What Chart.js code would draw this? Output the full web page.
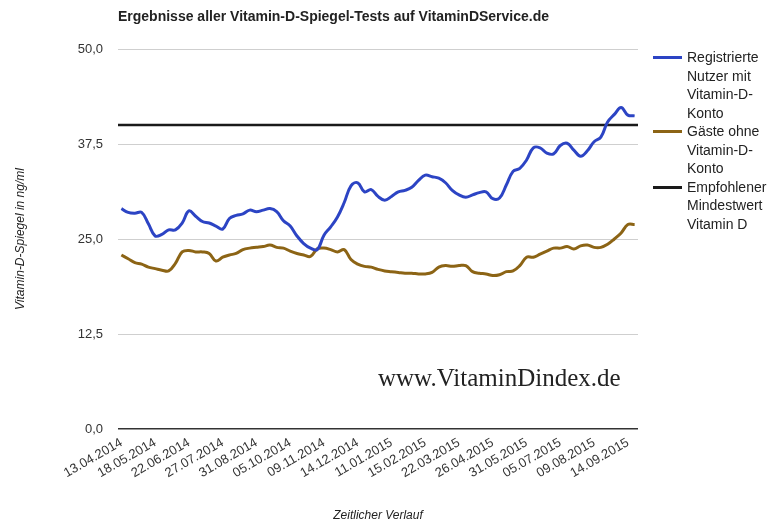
<!DOCTYPE html>
<html lang="de">
<head>
<meta charset="utf-8">
<title>Vitamin-D-Spiegel</title>
<script src="https://cdn.jsdelivr.net/npm/chart.js@4.4.1/dist/chart.umd.min.js"></script>
<style>
    body { margin: 0; background: #fff; }
    #wrap { position: relative; width: 769px; height: 524px; font-family: "Liberation Sans", Arial, sans-serif; }
    #titel { position: absolute; left: 118px; top: 8px; font-size: 14px; font-weight: bold; color: #222; white-space: nowrap; }
    #legende { position: absolute; left: 653px; top: 48px; font-size: 14px; line-height: 18.5px; color: #222; }
    .eintrag { display: flex; align-items: flex-start; }
    .strich { width: 29px; height: 3px; margin-top: 8px; margin-right: 5px; flex: none; }
    #wasserzeichen { position: absolute; left: 378px; top: 364px; font-family: "Liberation Serif", "Times New Roman", serif; font-size: 25px; color: #222; white-space: nowrap; }
</style>
</head>
<body>
<div id="wrap">
    <canvas id="chartVitaminD" width="769" height="524"></canvas>
    <div id="titel">Ergebnisse aller Vitamin-D-Spiegel-Tests auf VitaminDService.de</div>
    <div id="legende">
        <div class="eintrag"><span class="strich" style="background:#2c44c4"></span><span>Registrierte<br>Nutzer mit<br>Vitamin-D-<br>Konto</span></div>
        <div class="eintrag"><span class="strich" style="background:#8c6415"></span><span>Gäste ohne<br>Vitamin-D-<br>Konto</span></div>
        <div class="eintrag"><span class="strich" style="background:#1a1a1a"></span><span>Empfohlener<br>Mindestwert<br>Vitamin D</span></div>
    </div>
    <div id="wasserzeichen">www.VitaminDindex.de</div>
</div>

<script>
// ===== DATEN =====
// Beschriftungen (jede 5. Woche)
const tickLabels = [
    '13.04.2014', '18.05.2014', '22.06.2014', '27.07.2014', '31.08.2014', '05.10.2014',
    '09.11.2014', '14.12.2014', '11.01.2015', '15.02.2015', '22.03.2015', '26.04.2015',
    '31.05.2015', '05.07.2015', '09.08.2015', '14.09.2015'
];

// Registrierte Nutzer mit Vitamin-D-Konto (ng/ml, wöchentlich)
const registrierte = [
    29.0, 28.5, 28.4, 28.5, 27.0, 25.4, 25.6, 26.2, 26.2, 27.1,
    28.7, 28.0, 27.3, 27.1, 26.7, 26.3, 27.7, 28.1, 28.3, 28.8,
    28.6, 28.8, 29.0, 28.6, 27.4, 26.7, 25.4, 24.4, 23.8, 23.6,
    25.5, 26.6, 27.9, 29.8, 32.0, 32.4, 31.2, 31.5, 30.6, 30.1,
    30.6, 31.2, 31.4, 31.8, 32.7, 33.4, 33.2, 33.0, 32.4, 31.4,
    30.8, 30.5, 30.8, 31.1, 31.2, 30.3, 30.4, 32.1, 33.9, 34.3,
    35.4, 37.0, 37.0, 36.3, 36.2, 37.3, 37.6, 36.7, 35.9, 36.6,
    37.8, 38.4, 40.4, 41.4, 42.3, 41.3, 41.2
];

// Gäste ohne Vitamin-D-Konto
const gaeste = [
    22.9, 22.4, 21.9, 21.7, 21.3, 21.1, 20.9, 20.8, 21.8, 23.3,
    23.5, 23.3, 23.3, 23.1, 22.1, 22.6, 22.9, 23.1, 23.6, 23.8,
    23.9, 24.0, 24.2, 23.9, 23.8, 23.4, 23.1, 22.9, 22.7, 23.7,
    23.8, 23.6, 23.3, 23.6, 22.3, 21.7, 21.4, 21.3, 21.0, 20.8,
    20.7, 20.6, 20.5, 20.5, 20.4, 20.4, 20.6, 21.3, 21.5, 21.4,
    21.5, 21.5, 20.7, 20.5, 20.4, 20.2, 20.3, 20.7, 20.8, 21.5,
    22.6, 22.6, 23.0, 23.4, 23.8, 23.8, 24.0, 23.7, 24.1, 24.2,
    23.9, 23.9, 24.3, 25.0, 25.8, 26.9, 26.9
];

// Empfohlener Mindestwert
const EMPFOHLEN = 40;

const X_MIN = -0.5;
const X_MAX = registrierte.length - 0.5;

document.addEventListener('DOMContentLoaded', function() {
    inicializarGrafico();
});

function alsPunkte(werte) {
    return werte.map((v, i) => ({ x: i, y: v }));
}

// ===== GRAFIK =====
function inicializarGrafico() {
    const ctx = document.getElementById('chartVitaminD').getContext('2d');
    new Chart(ctx, {
        type: 'line',
        data: {
            datasets: [
                {
                    label: 'Registrierte Nutzer mit Vitamin-D-Konto',
                    data: alsPunkte(registrierte),
                    borderColor: '#2c44c4',
                    borderWidth: 3,
                    pointRadius: 0,
                    tension: 0.4
                },
                {
                    label: 'Gäste ohne Vitamin-D-Konto',
                    data: alsPunkte(gaeste),
                    borderColor: '#8c6415',
                    borderWidth: 3,
                    pointRadius: 0,
                    tension: 0.4
                },
                {
                    label: 'Empfohlener Mindestwert Vitamin D',
                    data: [{ x: X_MIN, y: EMPFOHLEN }, { x: X_MAX, y: EMPFOHLEN }],
                    borderColor: '#1a1a1a',
                    borderWidth: 2.5,
                    pointRadius: 0
                }
            ]
        },
        options: {
            responsive: false,
            animation: false,
            layout: { padding: { top: 49, right: 131, bottom: 0, left: 0 } },
            plugins: {
                legend: { display: false },
                tooltip: { enabled: false }
            },
            scales: {
                x: {
                    type: 'linear',
                    min: X_MIN,
                    max: X_MAX,
                    afterBuildTicks: s => { s.ticks = tickLabels.map((_, k) => ({ value: k * 5 })); },
                    afterFit: s => { s.height = 95; s.paddingLeft = 0; s.paddingRight = 0; },
                    grid: { display: false },
                    border: { display: false },
                    ticks: {
                        autoSkip: false,
                        minRotation: 30,
                        maxRotation: 30,
                        padding: -2,
                        color: '#333',
                        font: { family: '"Liberation Sans", Arial', size: 13 },
                        callback: v => tickLabels[Math.round(v / 5)]
                    },
                    title: {
                        display: true,
                        text: 'Zeitlicher Verlauf',
                        color: '#222',
                        padding: { top: 0, bottom: 1 },
                        font: { family: '"Liberation Sans", Arial', size: 12, style: 'italic' }
                    }
                },
                y: {
                    min: 0,
                    max: 50,
                    afterFit: s => { s.width = 118; s.paddingTop = 0; s.paddingBottom = 0; },
                    grid: {
                        drawTicks: false,
                        color: c => c.tick && c.tick.value === 0 ? '#333' : '#cfcfcf',
                        lineWidth: c => c.tick && c.tick.value === 0 ? 1.5 : 1
                    },
                    border: { display: false },
                    ticks: {
                        stepSize: 12.5,
                        padding: 15,
                        color: '#333',
                        font: { family: '"Liberation Sans", Arial', size: 13 },
                        callback: v => v.toFixed(1).replace('.', ',')
                    },
                    title: {
                        display: true,
                        text: 'Vitamin-D-Spiegel in ng/ml',
                        color: '#222',
                        padding: { top: 13, bottom: 0 },
                        font: { family: '"Liberation Sans", Arial', size: 12, style: 'italic' }
                    }
                }
            }
        }
    });
}
</script>
</body>
</html>
